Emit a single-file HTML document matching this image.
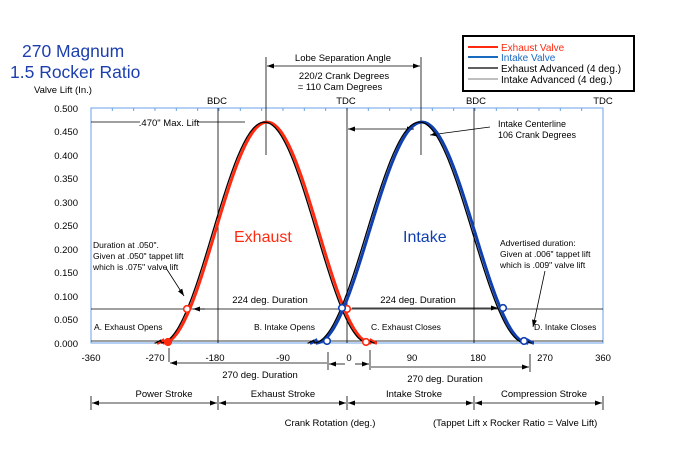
<!DOCTYPE html>
<html><head><meta charset="utf-8"><style>
html,body{margin:0;padding:0;background:#fff;}
svg{display:block;font-family:"Liberation Sans",sans-serif;}
</style></head><body>
<svg id="s" width="688" height="459" viewBox="0 0 688 459" xmlns="http://www.w3.org/2000/svg">
<defs>
<marker id="a" viewBox="0 0 10 10" refX="10" refY="5" markerWidth="9" markerHeight="9" orient="auto-start-reverse"><path d="M0,1.5 L10,5 L0,8.5 z" fill="#000"/></marker>
</defs>
<rect width="688" height="459" fill="#fff"/>
<text x="22" y="57" font-size="17.5" fill="#1d3fae">270 Magnum</text>
<text x="10" y="78" font-size="17.5" fill="#1d3fae">1.5 Rocker Ratio</text>
<text x="34" y="93" font-size="9.5">Valve Lift (In.)</text>
<g font-size="9.5" text-anchor="end">
<text x="78" y="112">0.500</text><text x="78" y="135">0.450</text><text x="78" y="159">0.400</text><text x="78" y="182">0.350</text><text x="78" y="206">0.300</text><text x="78" y="229">0.250</text><text x="78" y="253">0.200</text><text x="78" y="276">0.150</text><text x="78" y="300">0.100</text><text x="78" y="323">0.050</text><text x="78" y="347">0.000</text>
</g>
<rect x="91" y="108" width="512" height="235" fill="none" stroke="#6aa0e8" stroke-width="1"/>
<g id="ticks" stroke="#6aa0e8"></g>
<g stroke="#000" stroke-width="0.8" fill="none">
<line x1="218" y1="108" x2="218" y2="343"/><line x1="347" y1="108" x2="347" y2="343"/><line x1="474" y1="108" x2="474" y2="343"/>
<line x1="91" y1="309" x2="603" y2="309"/><line x1="91" y1="341" x2="603" y2="341"/>
<line x1="266" y1="57" x2="266" y2="155"/><line x1="421" y1="57" x2="421" y2="155"/>
<line x1="267" y1="66" x2="420" y2="66" marker-start="url(#a)" marker-end="url(#a)"/>
<line x1="91" y1="122" x2="140" y2="122"/><line x1="198" y1="122" x2="245" y2="122"/>
<line x1="348" y1="129" x2="414" y2="129" marker-start="url(#a)" marker-end="url(#a)"/>
<line x1="490" y1="127" x2="430" y2="135" marker-end="url(#a)"/>
<line x1="193" y1="309" x2="205" y2="309" marker-start="url(#a)"/>
<line x1="352" y1="308" x2="498" y2="308" marker-end="url(#a)"/>
<line x1="166" y1="268" x2="184" y2="296" marker-end="url(#a)"/>
<line x1="545" y1="271" x2="533" y2="327" marker-end="url(#a)"/>
<line x1="169" y1="348" x2="169" y2="362"/><line x1="328" y1="352" x2="328" y2="370"/><line x1="370" y1="350" x2="370" y2="370"/><line x1="530" y1="354" x2="530" y2="372"/>
<line x1="170" y1="363" x2="327" y2="363" marker-start="url(#a)"/>
<line x1="329" y1="364" x2="345" y2="364" marker-start="url(#a)"/>
<line x1="355" y1="364" x2="369" y2="364" marker-end="url(#a)"/>
<line x1="371" y1="367" x2="529" y2="367" marker-end="url(#a)"/>
<line x1="91" y1="396" x2="91" y2="410"/><line x1="218" y1="396" x2="218" y2="410"/><line x1="347" y1="396" x2="347" y2="410"/><line x1="474" y1="396" x2="474" y2="410"/><line x1="603" y1="396" x2="603" y2="410"/>
<line x1="92" y1="403" x2="217" y2="403" marker-start="url(#a)" marker-end="url(#a)"/>
<line x1="219" y1="403" x2="346" y2="403" marker-start="url(#a)" marker-end="url(#a)"/>
<line x1="348" y1="403" x2="473" y2="403" marker-start="url(#a)" marker-end="url(#a)"/>
<line x1="475" y1="403" x2="602" y2="403" marker-start="url(#a)" marker-end="url(#a)"/>
</g>
<g id="curves"></g>
<g stroke-width="1.6" fill="#fff">
<circle cx="168" cy="342" r="3.3" fill="#ff2a10" stroke="#ff2a10"/>
<circle cx="187" cy="309" r="3.3" stroke="#ff2a10"/>
<circle cx="347" cy="309" r="3.3" stroke="#ff2a10"/>
<circle cx="366" cy="342" r="3.3" stroke="#ff2a10"/>
<circle cx="327" cy="341" r="3.3" stroke="#1040b0"/>
<circle cx="342" cy="308" r="3.3" stroke="#1040b0"/>
<circle cx="503" cy="308" r="3.3" stroke="#1040b0"/>
<circle cx="524" cy="341" r="3.3" stroke="#1040b0"/>
</g>
<g font-size="9.5" text-anchor="middle">
<text x="343" y="61">Lobe Separation Angle</text>
<text x="344" y="79">220/2 Crank Degrees</text>
<text x="340" y="90">= 110 Cam Degrees</text>
<text x="217" y="104">BDC</text><text x="346" y="104">TDC</text><text x="476" y="104">BDC</text><text x="603" y="104">TDC</text>
<text x="169" y="126">.470" Max. Lift</text>
<text x="270" y="303">224 deg. Duration</text>
<text x="418" y="303">224 deg. Duration</text>
<text x="91" y="361">-360</text><text x="155" y="361">-270</text><text x="215" y="361">-180</text><text x="283" y="361">-90</text><text x="349" y="361">0</text><text x="412" y="361">90</text><text x="478" y="361">180</text><text x="545" y="361">270</text><text x="603" y="361">360</text>
<text x="260" y="378">270 deg. Duration</text>
<text x="445" y="382">270 deg. Duration</text>
<text x="164" y="397">Power Stroke</text><text x="283" y="397">Exhaust Stroke</text><text x="414" y="397">Intake Stroke</text><text x="544" y="397">Compression Stroke</text>
<text x="330" y="426">Crank Rotation (deg.)</text>
</g>
<g font-size="9">
<text x="498" y="127">Intake Centerline</text><text x="498" y="138">106 Crank Degrees</text>
<text x="93" y="248" font-size="8.5">Duration at .050".</text>
<text x="93" y="259" font-size="8.5">Given at .050" tappet lift</text>
<text x="93" y="270" font-size="8.5">which is .075" valve lift</text>
<text x="500" y="246" font-size="8.5">Advertised duration:</text>
<text x="500" y="257" font-size="8.5">Given at .006" tappet lift</text>
<text x="500" y="268" font-size="8.5">which is .009" valve lift</text>
<text x="94" y="330" font-size="8.5">A. Exhaust Opens</text>
<text x="254" y="330" font-size="8.5">B. Intake Opens</text>
<text x="371" y="330" font-size="8.5">C. Exhaust Closes</text>
<text x="534" y="330" font-size="8.5">D. Intake Closes</text>
<text x="433" y="426" font-size="9.5">(Tappet Lift   x  Rocker Ratio  =  Valve Lift)</text>
</g>
<text x="234" y="242" font-size="16" fill="#ff2a10">Exhaust</text>
<text x="403" y="242" font-size="16" fill="#1040b0">Intake</text>
<rect x="463" y="36" width="171" height="55" fill="#fff" stroke="#000" stroke-width="2"/>
<g stroke-width="2"><line x1="468" y1="47" x2="498" y2="47" stroke="#ff2a10"/><line x1="468" y1="57" x2="498" y2="57" stroke="#1a6ac0"/><line x1="468" y1="68" x2="498" y2="68" stroke="#000" stroke-width="1.2"/><line x1="468" y1="79" x2="498" y2="79" stroke="#555" stroke-width="0.7"/></g>
<g font-size="10"><text x="501" y="51" fill="#ff2a10">Exhaust Valve</text><text x="501" y="61" fill="#1a6ac0">Intake Valve</text><text x="501" y="72">Exhaust Advanced (4 deg.)</text><text x="501" y="83">Intake Advanced (4 deg.)</text></g>
</svg>
<script>
var ns="http://www.w3.org/2000/svg";
function path(c,W,off){var d="";for(var x=c-W-6;x<=c+W+6;x+=1){var t=Math.abs(x-c)/W;var v=t>=1?0.0:Math.pow(Math.cos(Math.PI/2*t),2);var tail=t>=1?Math.max(0,0.012-0.0025*(Math.abs(x-c)-W)):0;v=Math.max(v,tail);var y=343-v*0.47*470;d+=(d?"L":"M")+(x+off).toFixed(1)+","+y.toFixed(1);}return d;}
var g=document.getElementById("curves");
function add(d,col,w){var p=document.createElementNS(ns,"path");p.setAttribute("d",d);p.setAttribute("stroke",col);p.setAttribute("stroke-width",w);p.setAttribute("fill","none");g.appendChild(p);}
add(path(267,104,0),"#ff2a10",3);add(path(267,104,-2.5),"#000",1.3);
add(path(422,106,0),"#1040b0",3);add(path(422,106,-2.5),"#000",1.3);
var t=document.getElementById("ticks");
for(var i=0;i<=24;i++){var x=91+i*512/24;var l=document.createElementNS(ns,"line");l.setAttribute("x1",x);l.setAttribute("x2",x);l.setAttribute("y1",108);l.setAttribute("y2",111);t.appendChild(l);}
</script>
</body></html>
